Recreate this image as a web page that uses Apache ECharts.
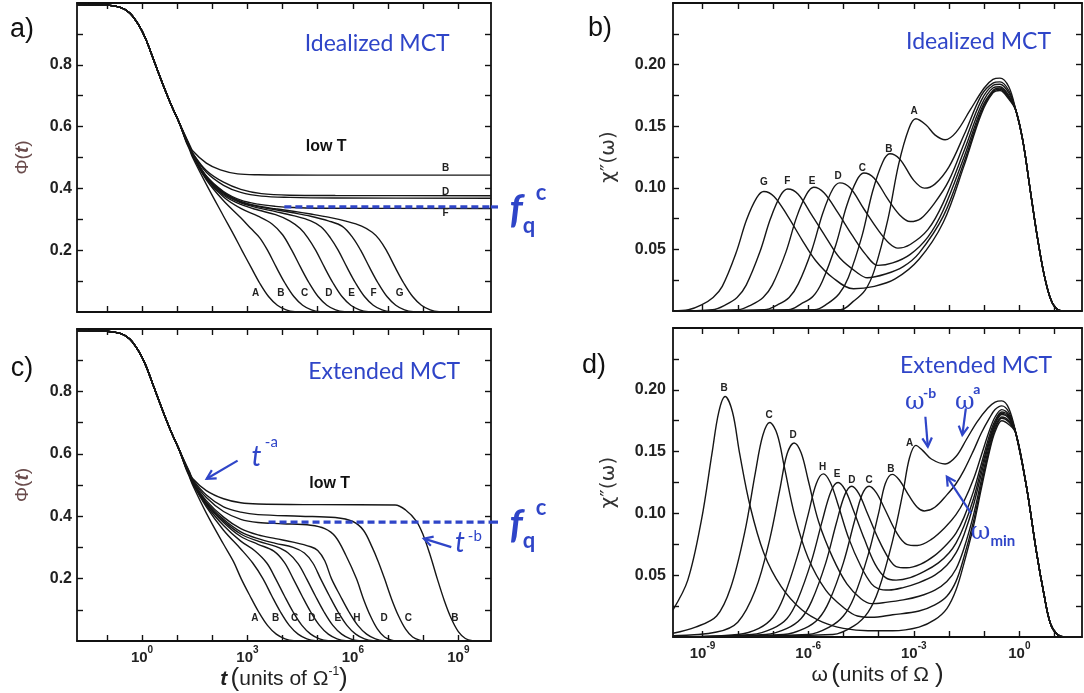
<!DOCTYPE html>
<html><head><meta charset="utf-8">
<script src="https://cdn.jsdelivr.net/npm/echarts@6/dist/echarts.min.js"></script>
<style>html,body{margin:0;padding:0;background:#fff}#c{width:1084px;height:693px}</style>
</head><body><div id="c"></div>
<script>
// ---------------- DATA (x = log10 of t or omega) ----------------
const tTickExp = [-1,0,1,2,3,4,5,6,7,8,9];
const tLabelExp = [0,3,6,9];
const wTickExp = [-9,-8,-7,-6,-5,-4,-3,-2,-1,0,1];
const wLabelExp = [-9,-6,-3,0];
const phiTicks = [0.1,0.2,0.3,0.4,0.5,0.6,0.7,0.8,0.9];
const phiLabels = [0.2,0.4,0.6,0.8];
const chiTicks = [0.025,0.05,0.075,0.1,0.125,0.15,0.175,0.2,0.225];
const chiLabels = [0.05,0.10,0.15,0.20];

// common short-time decay of Phi(t)
const tHead = [[-1.85,0.995],[-1.0,0.993],[-0.6,0.985],[-0.35,0.968],[-0.1,0.93],[0.1,0.885],[0.35,0.81],[0.6,0.735],[0.85,0.665],[1.05,0.615]];

// panel a: idealized MCT, liquid curves A..G
const aA = [[1.25,0.552],[1.35,0.526],[1.44,0.50],[1.83,0.413],[2.32,0.31],[2.6,0.252],[2.85,0.198],[3.1,0.145],[3.35,0.093],[3.6,0.05],[3.85,0.022],[4.1,0.007],[4.35,0.001],[4.65,0],[9.93,0]];
const aB = [[1.25,0.555],[1.35,0.53],[1.44,0.505],[1.83,0.428],[2.32,0.36],[2.81,0.305],[3.1,0.27],[3.35,0.24],[3.57,0.2],[3.82,0.145],[4.07,0.093],[4.32,0.05],[4.57,0.022],[4.82,0.007],[5.07,0.001],[5.37,0],[9.93,0]];
const aC = [[1.25,0.556],[1.35,0.532],[1.44,0.507],[1.83,0.432],[2.32,0.372],[2.81,0.335],[3.3,0.31],[3.7,0.285],[4.0,0.25],[4.26,0.2],[4.51,0.145],[4.76,0.093],[5.01,0.05],[5.26,0.022],[5.51,0.007],[5.76,0.001],[6.06,0],[9.93,0]];
const aD = [[1.25,0.557],[1.35,0.533],[1.44,0.508],[1.83,0.435],[2.32,0.378],[2.81,0.348],[3.3,0.33],[3.8,0.315],[4.2,0.295],[4.5,0.27],[4.72,0.24],[4.94,0.2],[5.19,0.145],[5.44,0.093],[5.69,0.05],[5.94,0.022],[6.19,0.007],[6.44,0.001],[6.74,0],[9.93,0]];
const aE = [[1.25,0.558],[1.35,0.534],[1.44,0.509],[1.83,0.437],[2.32,0.382],[2.81,0.353],[3.3,0.337],[3.8,0.325],[4.3,0.312],[4.8,0.295],[5.1,0.275],[5.36,0.24],[5.58,0.2],[5.83,0.145],[6.08,0.093],[6.33,0.05],[6.58,0.022],[6.83,0.007],[7.08,0.001],[7.38,0],[9.93,0]];
const aF = [[1.25,0.558],[1.35,0.535],[1.44,0.51],[1.83,0.438],[2.32,0.385],[2.81,0.356],[3.3,0.341],[3.8,0.331],[4.3,0.321],[4.8,0.31],[5.3,0.295],[5.7,0.277],[6.0,0.24],[6.22,0.2],[6.47,0.145],[6.72,0.093],[6.97,0.05],[7.22,0.022],[7.47,0.007],[7.72,0.001],[8.02,0],[9.93,0]];
const aG = [[1.25,0.559],[1.35,0.535],[1.44,0.51],[1.83,0.439],[2.32,0.387],[2.81,0.358],[3.3,0.343],[3.8,0.334],[4.3,0.326],[4.8,0.317],[5.3,0.307],[5.8,0.294],[6.25,0.278],[6.55,0.258],[6.75,0.235],[6.95,0.2],[7.2,0.145],[7.45,0.093],[7.7,0.05],[7.95,0.022],[8.2,0.007],[8.45,0.001],[8.75,0],[9.93,0]];
// panel a: glass (low T) curves
const aBg = [[1.25,0.566],[1.35,0.542],[1.44,0.522],[1.83,0.482],[2.23,0.46],[2.72,0.447],[3.3,0.444],[5,0.443],[9.93,0.443]];
const aCg = [[1.25,0.563],[1.35,0.538],[1.44,0.515],[1.83,0.458],[2.32,0.42],[2.81,0.397],[3.4,0.383],[4.2,0.378],[5.5,0.377],[9.93,0.376]];
const aDg = [[1.25,0.562],[1.35,0.537],[1.44,0.513],[1.83,0.452],[2.32,0.41],[2.81,0.387],[3.4,0.375],[4.2,0.371],[5.5,0.369],[9.93,0.368]];
const aFg = [[1.25,0.56],[1.35,0.536],[1.44,0.511],[1.83,0.44],[2.32,0.39],[2.81,0.362],[3.3,0.349],[3.8,0.342],[4.3,0.338],[5,0.336],[9.93,0.335]];
const fqA = 0.34;
const fqAStart = 4.05;

// panel c: extended MCT
const cA = [[1.25,0.552],[1.35,0.526],[1.44,0.50],[1.83,0.41],[2.32,0.31],[2.6,0.255],[2.82,0.2],[3.07,0.145],[3.32,0.093],[3.57,0.05],[3.82,0.022],[4.07,0.007],[4.32,0.001],[4.62,0],[9.93,0]];
const cB = [[1.25,0.555],[1.35,0.53],[1.44,0.505],[1.83,0.43],[2.32,0.355],[2.81,0.295],[3.15,0.25],[3.44,0.2],[3.69,0.145],[3.94,0.093],[4.19,0.05],[4.44,0.022],[4.69,0.007],[4.94,0.001],[5.24,0],[9.93,0]];
const cC = [[1.25,0.556],[1.35,0.532],[1.44,0.507],[1.83,0.435],[2.32,0.37],[2.81,0.32],[3.2,0.29],[3.55,0.25],[3.8,0.2],[4.05,0.145],[4.3,0.093],[4.55,0.05],[4.8,0.022],[5.05,0.007],[5.3,0.001],[5.6,0],[9.93,0]];
const cD = [[1.25,0.557],[1.35,0.533],[1.44,0.508],[1.83,0.44],[2.32,0.38],[2.81,0.335],[3.3,0.31],[3.75,0.288],[4.05,0.252],[4.3,0.2],[4.55,0.145],[4.8,0.093],[5.05,0.05],[5.3,0.022],[5.55,0.007],[5.8,0.001],[6.1,0],[9.93,0]];
const cU = [[1.25,0.558],[1.35,0.534],[1.44,0.509],[1.83,0.442],[2.32,0.385],[2.81,0.343],[3.3,0.32],[3.8,0.303],[4.15,0.283],[4.44,0.248],[4.68,0.2],[4.93,0.145],[5.18,0.093],[5.43,0.05],[5.68,0.022],[5.93,0.007],[6.18,0.001],[6.48,0],[9.93,0]];
const cE = [[1.25,0.558],[1.35,0.535],[1.44,0.51],[1.83,0.445],[2.32,0.39],[2.81,0.35],[3.3,0.328],[3.8,0.313],[4.3,0.3],[4.62,0.282],[4.86,0.25],[5.08,0.2],[5.33,0.145],[5.58,0.093],[5.83,0.05],[6.08,0.022],[6.33,0.007],[6.58,0.001],[6.88,0],[9.93,0]];
const cH = [[1.25,0.559],[1.35,0.536],[1.44,0.512],[1.83,0.45],[2.32,0.397],[2.81,0.36],[3.3,0.34],[3.8,0.328],[4.3,0.317],[4.8,0.302],[5.0,0.29],[5.2,0.257],[5.39,0.2],[5.64,0.145],[5.89,0.093],[6.14,0.05],[6.39,0.022],[6.64,0.007],[6.89,0.001],[7.19,0],[9.93,0]];
const cD2 = [[1.25,0.562],[1.35,0.538],[1.44,0.515],[1.83,0.46],[2.32,0.415],[2.81,0.39],[3.3,0.38],[4.0,0.376],[4.8,0.371],[5.2,0.36],[5.5,0.335],[5.8,0.275],[6.1,0.2],[6.3,0.135],[6.5,0.08],[6.7,0.038],[6.9,0.013],[7.1,0.003],[7.3,0],[9.93,0]];
const cC2 = [[1.25,0.564],[1.35,0.54],[1.44,0.518],[1.83,0.468],[2.32,0.43],[2.81,0.413],[3.3,0.405],[4.5,0.4],[5.5,0.396],[6.0,0.383],[6.3,0.355],[6.55,0.3],[6.72,0.255],[6.9,0.2],[7.1,0.135],[7.3,0.08],[7.5,0.038],[7.7,0.013],[7.9,0.003],[8.1,0],[9.93,0]];
const cB2 = [[1.25,0.566],[1.35,0.542],[1.44,0.521],[1.83,0.482],[2.32,0.456],[2.81,0.443],[3.3,0.439],[5,0.437],[7.2,0.436],[7.5,0.42],[7.8,0.385],[8.0,0.34],[8.2,0.275],[8.4,0.2],[8.6,0.13],[8.8,0.072],[9.0,0.03],[9.2,0.008],[9.4,0.001],[9.6,0],[9.93,0]];
const fqC = 0.381;
const fqCStart = 3.6;

// panel b: idealized MCT susceptibility
const bTail = [[-0.1,0.163],[0.1,0.138],[0.3,0.1],[0.5,0.062],[0.7,0.03],[0.9,0.009],[1.1,0.001],[1.3,0],[1.78,0]];
const bG = [[-9.84,0],[-9.4,0.001],[-9.03,0.005],[-8.7,0.011],[-8.44,0.02],[-8.05,0.047],[-7.75,0.074],[-7.46,0.092],[-7.26,0.097],[-6.97,0.093],[-6.58,0.077],[-6.18,0.058],[-5.79,0.041],[-5.3,0.027],[-4.71,0.018],[-4.12,0.02],[-3.53,0.026],[-2.85,0.042],[-2.16,0.072],[-1.57,0.118],[-1.08,0.16],[-0.75,0.177],[-0.55,0.179],[-0.3,0.172]];
const bF = [[-9.84,0],[-8.72,0.001],[-8.35,0.005],[-8.02,0.011],[-7.76,0.021],[-7.37,0.048],[-7.07,0.075],[-6.78,0.094],[-6.58,0.099],[-6.29,0.095],[-5.9,0.078],[-5.5,0.06],[-5.1,0.043],[-4.6,0.031],[-4.32,0.027],[-3.8,0.03],[-3.3,0.036],[-2.85,0.047],[-2.16,0.077],[-1.57,0.121],[-1.08,0.162],[-0.75,0.178],[-0.55,0.18],[-0.3,0.173]];
const bE = [[-9.84,0],[-7.98,0.001],[-7.61,0.005],[-7.28,0.011],[-7.02,0.021],[-6.63,0.048],[-6.33,0.076],[-6.04,0.095],[-5.84,0.1005],[-5.55,0.096],[-5.16,0.08],[-4.76,0.062],[-4.37,0.046],[-4.02,0.037],[-3.6,0.039],[-3.1,0.046],[-2.6,0.06],[-2.16,0.082],[-1.57,0.125],[-1.08,0.164],[-0.75,0.179],[-0.55,0.181],[-0.3,0.174]];
const bD = [[-9.84,0],[-7.24,0.001],[-6.87,0.005],[-6.54,0.011],[-6.28,0.022],[-5.89,0.05],[-5.59,0.079],[-5.3,0.099],[-5.1,0.104],[-4.81,0.1],[-4.42,0.083],[-4.02,0.066],[-3.7,0.055],[-3.45,0.051],[-3.1,0.054],[-2.6,0.066],[-2.16,0.088],[-1.57,0.13],[-1.08,0.167],[-0.75,0.181],[-0.55,0.182],[-0.3,0.175]];
const bC = [[-9.84,0],[-6.56,0.001],[-6.19,0.006],[-5.86,0.012],[-5.6,0.024],[-5.21,0.054],[-4.91,0.085],[-4.62,0.106],[-4.42,0.112],[-4.13,0.108],[-3.74,0.091],[-3.4,0.078],[-3.1,0.0726],[-2.8,0.075],[-2.4,0.088],[-2.0,0.106],[-1.57,0.136],[-1.08,0.171],[-0.75,0.183],[-0.55,0.184],[-0.3,0.177]];
const bB = [[-9.84,0],[-5.82,0.001],[-5.45,0.006],[-5.12,0.014],[-4.86,0.027],[-4.47,0.061],[-4.17,0.097],[-3.88,0.121],[-3.68,0.1276],[-3.39,0.123],[-3.0,0.106],[-2.7,0.0997],[-2.4,0.103],[-2.0,0.117],[-1.57,0.143],[-1.08,0.175],[-0.75,0.185],[-0.55,0.186],[-0.3,0.179]];
const bA = [[-9.84,0],[-5.08,0.001],[-4.71,0.008],[-4.38,0.017],[-4.12,0.033],[-3.73,0.075],[-3.43,0.119],[-3.14,0.148],[-2.94,0.156],[-2.65,0.151],[-2.4,0.143],[-2.11,0.139],[-1.8,0.145],[-1.4,0.163],[-1.0,0.181],[-0.75,0.188],[-0.55,0.189],[-0.3,0.182]];

// panel d: extended MCT susceptibility
const dTail = [[-0.1,0.165],[0.2,0.122],[0.49,0.068],[0.69,0.036],[0.88,0.011],[1.08,0.002],[1.3,0],[1.78,0]];
const dB2 = [[-9.84,0.022],[-9.42,0.046],[-9.03,0.095],[-8.73,0.149],[-8.54,0.182],[-8.36,0.1946],[-8.15,0.182],[-7.95,0.149],[-7.65,0.106],[-7.26,0.068],[-6.77,0.041],[-6.18,0.022],[-5.59,0.012],[-5.0,0.007],[-4.3,0.005],[-3.6,0.005],[-2.85,0.008],[-2.4,0.014],[-2.06,0.023],[-1.8,0.038],[-1.57,0.06],[-1.3,0.09],[-1.08,0.12],[-0.85,0.15],[-0.69,0.166],[-0.5,0.175],[-0.3,0.172]];
const dC2 = [[-9.84,0.003],[-9.2,0.008],[-8.6,0.017],[-8.2,0.04],[-7.8,0.085],[-7.5,0.133],[-7.29,0.163],[-7.09,0.1735],[-6.88,0.164],[-6.68,0.138],[-6.38,0.098],[-6.0,0.064],[-5.5,0.038],[-5.0,0.024],[-4.6,0.017],[-4.2,0.016],[-3.6,0.018],[-2.85,0.021],[-2.4,0.026],[-2.06,0.033],[-1.8,0.045],[-1.57,0.065],[-1.3,0.094],[-1.08,0.123],[-0.85,0.152],[-0.69,0.168],[-0.5,0.177],[-0.3,0.174]];
const dD2 = [[-9.84,0.001],[-8.6,0.004],[-8.0,0.012],[-7.5,0.038],[-7.1,0.078],[-6.8,0.12],[-6.6,0.148],[-6.4,0.157],[-6.2,0.149],[-6.0,0.127],[-5.7,0.093],[-5.3,0.064],[-4.9,0.043],[-4.5,0.031],[-4.2,0.027],[-3.8,0.028],[-3.3,0.03],[-2.85,0.033],[-2.4,0.038],[-2.06,0.045],[-1.8,0.055],[-1.57,0.072],[-1.3,0.099],[-1.08,0.127],[-0.85,0.155],[-0.69,0.17],[-0.5,0.178],[-0.3,0.175]];
const dH = [[-9.84,0],[-8.0,0.002],[-7.4,0.007],[-7.0,0.016],[-6.7,0.032],[-6.3,0.066],[-6.0,0.099],[-5.77,0.124],[-5.57,0.132],[-5.37,0.125],[-5.15,0.107],[-4.85,0.08],[-4.5,0.057],[-4.2,0.043],[-4.0,0.039],[-3.7,0.038],[-3.3,0.04],[-2.85,0.044],[-2.4,0.05],[-2.06,0.058],[-1.8,0.068],[-1.57,0.083],[-1.3,0.107],[-1.08,0.132],[-0.85,0.158],[-0.69,0.172],[-0.5,0.18],[-0.3,0.177]];
const dE = [[-9.84,0],[-7.6,0.002],[-7.0,0.007],[-6.6,0.015],[-6.3,0.03],[-5.9,0.062],[-5.6,0.094],[-5.35,0.118],[-5.15,0.125],[-4.95,0.119],[-4.72,0.103],[-4.4,0.079],[-4.1,0.059],[-3.8,0.048],[-3.5,0.046],[-3.1,0.048],[-2.7,0.053],[-2.3,0.06],[-2.0,0.068],[-1.8,0.076],[-1.57,0.09],[-1.3,0.112],[-1.08,0.136],[-0.85,0.16],[-0.69,0.173],[-0.5,0.181],[-0.3,0.178]];
const dD = [[-9.84,0],[-7.2,0.002],[-6.6,0.007],[-6.2,0.015],[-5.9,0.029],[-5.5,0.06],[-5.2,0.092],[-4.96,0.115],[-4.76,0.122],[-4.56,0.116],[-4.33,0.101],[-4.0,0.079],[-3.7,0.063],[-3.5,0.057],[-3.2,0.056],[-2.8,0.059],[-2.4,0.066],[-2.06,0.075],[-1.8,0.084],[-1.57,0.097],[-1.3,0.118],[-1.08,0.14],[-0.85,0.163],[-0.69,0.175],[-0.5,0.182],[-0.3,0.179]];
const dC = [[-9.84,0],[-6.7,0.002],[-6.1,0.007],[-5.7,0.015],[-5.4,0.029],[-5.0,0.06],[-4.7,0.092],[-4.47,0.115],[-4.27,0.122],[-4.07,0.117],[-3.83,0.104],[-3.5,0.085],[-3.2,0.075],[-2.9,0.074],[-2.5,0.079],[-2.1,0.089],[-1.8,0.099],[-1.57,0.11],[-1.3,0.128],[-1.08,0.147],[-0.85,0.167],[-0.69,0.178],[-0.5,0.184],[-0.3,0.18]];
const dB = [[-9.84,0],[-6.0,0.002],[-5.4,0.008],[-5.0,0.017],[-4.7,0.032],[-4.3,0.066],[-4.0,0.1],[-3.81,0.124],[-3.61,0.1316],[-3.41,0.127],[-3.15,0.115],[-2.9,0.105],[-2.7,0.102],[-2.4,0.105],[-2.06,0.115],[-1.8,0.124],[-1.57,0.135],[-1.3,0.151],[-1.08,0.165],[-0.85,0.177],[-0.69,0.184],[-0.5,0.187],[-0.3,0.182]];
const dA = [[-9.84,0],[-5.3,0.002],[-4.7,0.009],[-4.3,0.02],[-4.0,0.038],[-3.6,0.078],[-3.3,0.118],[-3.12,0.145],[-2.94,0.155],[-2.75,0.151],[-2.5,0.144],[-2.11,0.14],[-1.8,0.146],[-1.5,0.16],[-1.2,0.174],[-0.9,0.185],[-0.69,0.19],[-0.5,0.191],[-0.3,0.185]];

// curve letter labels: [panel, x, y, text]
const curveLetters = [
 [0,8.64,0.465,'B'],[0,8.64,0.389,'D'],[0,8.64,0.319,'F'],
 [0,3.23,0.06,'A'],[0,3.95,0.06,'B'],[0,4.63,0.06,'C'],[0,5.32,0.06,'D'],[0,5.96,0.06,'E'],[0,6.59,0.06,'F'],[0,7.33,0.06,'G'],
 [1,-7.26,0.1042,'G'],[1,-6.59,0.105,'F'],[1,-5.89,0.105,'E'],[1,-5.15,0.109,'D'],[1,-4.46,0.116,'C'],[1,-3.71,0.1316,'B'],[1,-2.99,0.1625,'A'],
 [2,3.21,0.073,'A'],[2,3.8,0.073,'B'],[2,4.34,0.073,'C'],[2,4.83,0.073,'D'],[2,5.57,0.073,'E'],[2,6.11,0.073,'H'],[2,6.89,0.073,'D'],[2,7.58,0.073,'C'],[2,8.9,0.073,'B'],
 [3,-8.39,0.2012,'B'],[3,-7.11,0.1796,'C'],[3,-6.43,0.1634,'D'],[3,-5.59,0.1373,'H'],[3,-5.18,0.1319,'E'],[3,-4.76,0.127,'D'],[3,-4.27,0.127,'C'],[3,-3.65,0.136,'B'],[3,-3.12,0.157,'A']
];
const titles = [[0,6.69,0.868,'Idealized MCT'],[1,-1.16,0.2186,'Idealized MCT'],[2,6.89,0.862,'Extended MCT'],[3,-1.23,0.22,'Extended MCT']];
const lowT = [[0,5.24,0.534],[2,5.34,0.505]];

// ---------------- CHART ----------------
const chart = echarts.init(document.getElementById('c'));
const BLUE = '#2f45c8', INK = '#161616';
const FONT = 'Liberation Sans, Arial, sans-serif';
const grids = [
 {left:77, top:3, width:414, height:309},
 {left:673, top:3, width:409, height:308},
 {left:77, top:329, width:414, height:312},
 {left:673, top:328, width:409, height:309}
];
const xr = [[-1.85,9.93],[-9.84,1.78],[-1.85,9.93],[-9.84,1.78]];
const yr = [[0,1],[0,0.25],[0,1],[0,0.25]];
const lineAx = {show:true,onZero:false,lineStyle:{color:'#111',width:1.8}};
const supRich = {
 m:{fontSize:15,fontWeight:'bold',color:'#222',fontFamily:FONT,lineHeight:20,verticalAlign:'bottom'},
 s:{fontSize:10,fontWeight:'bold',color:'#222',fontFamily:FONT,lineHeight:20,verticalAlign:'top'}
};
const nameRich = {
 i:{fontSize:21,fontStyle:'italic',fontWeight:'bold',color:'#222',fontFamily:FONT},
 r:{fontSize:21,color:'#222',fontFamily:FONT},
 p:{fontSize:26,color:'#222',fontFamily:FONT},
 s:{fontSize:12,color:'#222',fontFamily:FONT,verticalAlign:'top',lineHeight:26},
 yi:{fontSize:19,fontStyle:'italic',fontWeight:'bold',color:'#6a4c4c',fontFamily:FONT},
 yr:{fontSize:19,color:'#6a4c4c',fontFamily:FONT},
 cr:{fontSize:20,color:'#333',fontFamily:'DejaVu Sans, sans-serif'}
};
const xAxes = [], yAxes = [];
for (let g=0; g<4; g++){
 const isT = g%2===0;
 ['bottom','top'].forEach(pos=>{
  const showLab = pos==='bottom' && g>=2;
  const ax = {type:'value',gridIndex:g,position:pos,min:xr[g][0],max:xr[g][1],
   axisLine:lineAx, splitLine:{show:false},
   axisTick:{show:true,inside:true,length:6,lineStyle:{color:'#111',width:1.4},customValues:isT?tTickExp:wTickExp},
   axisLabel:{show:showLab,customValues:isT?tLabelExp:wLabelExp,margin:4,
     formatter:v=>'{m|10}{s|'+Math.round(v)+'}',rich:supRich}};
  if (showLab){
   ax.name = isT ? '{i|t} {p|(}{r|units of Ω}{s|-1}{p|)}' : '{r|ω} {p|(}{r|units of Ω }{p|)}';
   ax.nameLocation='middle'; ax.nameGap=23;
   ax.nameTextStyle={rich:nameRich};
  }
  xAxes.push(ax);
 });
 ['left','right'].forEach(pos=>{
  const showLab = pos==='left';
  const ay = {type:'value',gridIndex:g,position:pos,min:yr[g][0],max:yr[g][1],
   axisLine:lineAx, splitLine:{show:false},
   axisTick:{show:true,inside:true,length:6,lineStyle:{color:'#111',width:1.4},customValues:isT?phiTicks:chiTicks},
   axisLabel:{show:showLab,customValues:isT?phiLabels:chiLabels,margin:isT?5:7,
     fontSize:16,fontWeight:'bold',color:'#222',fontFamily:FONT,
     formatter:v=>isT?v.toFixed(1):v.toFixed(2)}};
  if (showLab){
   ay.name = isT ? '{yr|Φ(}{yi|t}{yr|)}' : '{cr|χ″(ω)}';
   ay.nameLocation='middle'; ay.nameRotate=90; ay.nameGap=isT?45:54;
   ay.nameTextStyle={rich:nameRich};
  }
  yAxes.push(ay);
 });
}
function curve(g, data){
 return {type:'line',xAxisIndex:2*g,yAxisIndex:2*g,data:data,symbol:'none',smooth:0.35,
  lineStyle:{color:INK,width:1.4},silent:true,z:3};
}
function dashed(g, start, end, val){
 return {type:'line',xAxisIndex:2*g,yAxisIndex:2*g,data:[[start,val],[end,val]],symbol:'none',
  lineStyle:{color:BLUE,width:3.2,type:[7,4]},silent:true,z:5};
}
const series = [];
[aA,aB,aC,aD,aE,aF,aG,aBg,aCg,aDg,aFg].forEach(d=>series.push(curve(0,tHead.concat(d))));
[bG,bF,bE,bD,bC,bB,bA].forEach(d=>series.push(curve(1,d.concat(bTail))));
[cA,cB,cC,cD,cU,cE,cH,cD2,cC2,cB2].forEach(d=>series.push(curve(2,tHead.concat(d))));
[dB2,dC2,dD2,dH,dE,dD,dC,dB,dA].forEach(d=>series.push(curve(3,d.concat(dTail))));
series.push(dashed(0,fqAStart,xr[0][1],fqA));
series.push(dashed(2,fqCStart,xr[2][1],fqC));

chart.setOption({animation:false,backgroundColor:'#fff',grid:grids,xAxis:xAxes,yAxis:yAxes,series:series});

// ---------------- ANNOTATIONS ----------------
function P(g,x,y){ return chart.convertToPixel({xAxisIndex:2*g,yAxisIndex:2*g},[x,y]); }
const G = [];
function txt(x,y,text,font,fill,align){
 G.push({type:'text',silent:true,z:100,style:{x:x,y:y,text:text,font:font,fill:fill,
  align:align||'center',textAlign:align||'center',verticalAlign:'middle',textVerticalAlign:'middle'}});
}
function arrow(g,from,to){
 const a=P(g,from[0],from[1]), b=P(g,to[0],to[1]);
 const ang=Math.atan2(b[1]-a[1],b[0]-a[0]), L=10, w=0.5;
 G.push({type:'line',silent:true,z:100,shape:{x1:a[0],y1:a[1],x2:b[0],y2:b[1]},style:{stroke:BLUE,lineWidth:2.2}});
 G.push({type:'polyline',silent:true,z:100,shape:{points:[[b[0]-L*Math.cos(ang-w),b[1]-L*Math.sin(ang-w)],[b[0],b[1]],[b[0]-L*Math.cos(ang+w),b[1]-L*Math.sin(ang+w)]]},style:{stroke:BLUE,lineWidth:2.2,fill:null}});
}
txt(22,30,'a)','27px '+FONT,'#111');
txt(600,29,'b)','27px '+FONT,'#111');
txt(22,369,'c)','27px '+FONT,'#111');
txt(594,366,'d)','27px '+FONT,'#111');
curveLetters.forEach(l=>{const p=P(l[0],l[1],l[2]); txt(p[0],p[1],l[3],'bold 10px '+FONT,'#222');});
titles.forEach(t=>{const p=P(t[0],t[1],t[2]); txt(p[0],p[1],t[3],'23px Lato, sans-serif',BLUE);});
lowT.forEach(t=>{const p=P(t[0],t[1],t[2]); txt(p[0],p[1],'low T','bold 16px '+FONT,'#111');});
[[0,fqA],[2,fqC]].forEach(([g,v])=>{
 const p=P(g,xr[g][1],v);
 G.push({type:'line',silent:true,z:100,shape:{x1:p[0],y1:p[1],x2:p[0]+8,y2:p[1]},style:{stroke:BLUE,lineWidth:3.2,lineDash:[7,4]}});
 txt(p[0]+25,p[1]+3,'f','italic bold 40px Lato, sans-serif',BLUE);
 txt(p[0]+38,p[1]+19,'q','bold 22px Lato, sans-serif',BLUE);
 txt(p[0]+50,p[1]-14,'c','bold 22px Lato, sans-serif',BLUE);
});
arrow(2,[2.72,0.578],[1.84,0.52]);
let q=P(2,3.26,0.59); txt(q[0],q[1],'t','italic 28px Lato, sans-serif',BLUE);
q=P(2,3.68,0.636); txt(q[0],q[1],'-a','15px Lato, sans-serif',BLUE);
arrow(2,[8.8,0.301],[8.02,0.328]);
q=P(2,9.05,0.313); txt(q[0],q[1],'t','italic 28px Lato, sans-serif',BLUE);
q=P(2,9.47,0.335); txt(q[0],q[1],'-b','15px Lato, sans-serif',BLUE);
arrow(3,[-2.67,0.1782],[-2.6,0.154]);
q=P(3,-2.97,0.1897); txt(q[0],q[1],'ω','24px DejaVu Serif, serif',BLUE);
q=P(3,-2.55,0.1974); txt(q[0],q[1],'-b','bold 14px Lato, sans-serif',BLUE);
arrow(3,[-1.52,0.185],[-1.62,0.1634]);
q=P(3,-1.55,0.1897); txt(q[0],q[1],'ω','24px DejaVu Serif, serif',BLUE);
q=P(3,-1.21,0.2); txt(q[0],q[1],'a','bold 14px Lato, sans-serif',BLUE);
arrow(3,[-1.37,0.1],[-2.06,0.1297]);
q=P(3,-1.1,0.0845); txt(q[0],q[1],'ω','24px DejaVu Serif, serif',BLUE);
q=P(3,-0.47,0.0777); txt(q[0],q[1],'min','bold 15px Lato, sans-serif',BLUE);

chart.setOption({graphic:G});
</script></body></html>
